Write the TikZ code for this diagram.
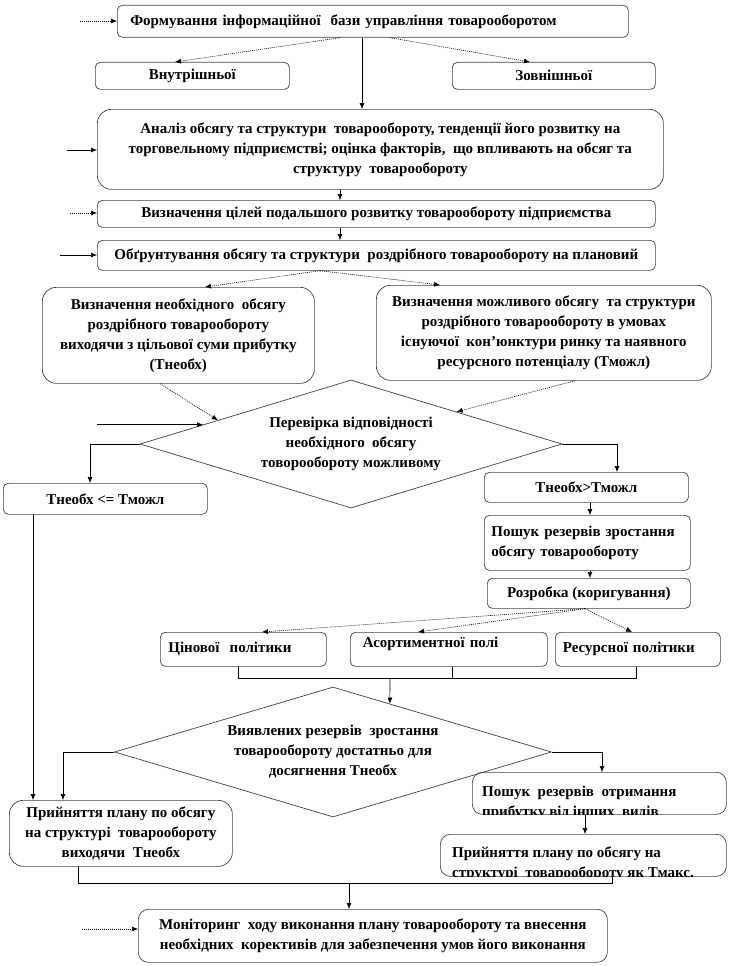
\documentclass[tikz,border=0pt]{standalone}
\usepackage{fontspec}
\setmainfont{Liberation Serif}
\usetikzlibrary{arrows.meta,shapes.geometric,calc}
\begin{document}
\begin{tikzpicture}[x=1pt,y=-1pt,
  font=\fontsize{15}{20}\selectfont\bfseries,
  box/.style={draw=black!75, line width=0.7pt, rounded corners=5pt, anchor=north west, inner sep=0pt, align=center},
  bigbox/.style={box, rounded corners=14pt},
  arr/.style={-{Latex[length=6pt,width=5pt]}, line width=0.6pt},
  dotarr/.style={arr, dash pattern=on 1pt off 1pt},
  ln/.style={line width=0.6pt},
  dia/.style={draw=black!75, line width=0.7pt, diamond, inner sep=0pt, align=center}
]
\useasboundingbox (0,0) rectangle (730,966);

% boxes
\node[box, minimum width=511pt, minimum height=32pt, text width=485pt, align=left] (top) at (117,5) {Формування інформаційної\ \ бази управління товарооборотом};
\node[box, minimum width=194pt, minimum height=27pt] (vn) at (95,62) {Внутрішньої};
\node[box, minimum width=203pt, minimum height=27pt] (zn) at (452,62) {Зовнішньої};
\node[bigbox, minimum width=566pt, minimum height=80pt] (an) at (97,109) {Аналіз обсягу та структури\ \ товарообороту, тенденції його розвитку на\\торговельному підприємстві; оцінка факторів,\ \ що впливають на обсяг та\\структуру\ \ товарообороту};
\node[box, minimum width=558pt, minimum height=27pt] (cil) at (97,200) {Визначення цілей подальшого розвитку товарообороту підприємства};
\node[box, minimum width=558pt, minimum height=30pt] (obg) at (97,240) {Обґрунтування обсягу та структури\ \ роздрібного товарообороту на плановий};
\node[bigbox, minimum width=272pt, minimum height=96pt] (lb) at (42,287) {Визначення необхідного\ \ обсягу\\роздрібного товарообороту\\виходячи з цільової суми прибутку\\(Тнеобх)};
\node[bigbox, minimum width=335pt, minimum height=95pt] (rb) at (376,285) {Визначення можливого обсягу\ \ та структури\\роздрібного товарообороту в умовах\\існуючої\ \ кон’юнктури ринку та наявного\\ресурсного потенціалу (Тможл)};
\node[dia, minimum width=422pt, minimum height=128pt, shape aspect=3.3] (d1) at (351,444) {Перевірка відповідності\\необхідного\ \ обсягу\\товорообороту можливому};
\node[box, minimum width=204pt, minimum height=31pt] (tle) at (3,483) {Тнеобх <= Тможл};
\node[box, minimum width=204pt, minimum height=30pt] (tgt) at (484,472) {Тнеобх>Тможл};
\node[box, minimum width=206pt, minimum height=55pt, text width=192pt, align=left] (psk) at (484,515) {Пошук резервів зростання\\обсягу товарообороту};
\node[box, minimum width=203pt, minimum height=30pt] (roz) at (487,578) {Розробка (коригування)};
\node[box, minimum width=166pt, minimum height=34pt, text width=150pt, align=left] (cin) at (160,632) {Цінової\ \ політики};
\node[box, minimum width=197pt, minimum height=34pt, text width=172pt, align=left] (aso) at (350,632) {Асортиментної полі\\[-6pt]\mbox{}};
\node[box, minimum width=165pt, minimum height=34pt, text width=150pt, align=left] (res) at (555,632) {Ресурсної політики};
\node[dia, minimum width=437pt, minimum height=130pt, shape aspect=3.3] (d2) at (333,752) {Виявлених резервів\ \ зростання\\товарообороту достатньо для\\досягнення Тнеобх};
\node[bigbox, minimum width=223pt, minimum height=66pt] (ppl) at (9,800) {Прийняття плану по обсягу\\на структурі\ \ товарообороту\\виходячи\ \ Тнеобх};
\node[box, rounded corners=10pt, minimum width=254pt, minimum height=42pt] (pro) at (472,772) {};
\begin{scope}
\clip[rounded corners=10pt] (pro.north west) rectangle (pro.south east);
\node[anchor=north west, align=left, inner sep=0pt] (protext) at ($(pro.north west)+(10,14)$) {Пошук\ \ резервів\ \ отримання\\прибутку від інших\ \ видів};
\end{scope}
\node[box, rounded corners=10pt, minimum width=286pt, minimum height=42pt] (ppr) at (440,834) {};
\begin{scope}
\clip[rounded corners=10pt] (ppr.north west) rectangle (ppr.south east);
\node[anchor=north west, align=left, inner sep=0pt] (pprtext) at ($(ppr.north west)+(12,13)$) {Прийняття плану по обсягу на\\структурі\ \ товарообороту як Тмакс.};
\end{scope}
\node[box, rounded corners=10pt, minimum width=469pt, minimum height=53pt] (mon) at (138,909) {Моніторинг\ \ ходу виконання плану товарообороту та внесення\\необхідних\ \ корективів для забезпечення умов його виконання};

% input arrows
\coordinate (i1) at (80,21);
\draw[dotarr] (i1) -- (top.west |- i1);
\coordinate (i2) at (67,150);
\draw[arr] (i2) -- (an.west |- i2);
\coordinate (i3) at (70,213);
\draw[dotarr] (i3) -- (cil.west |- i3);
\coordinate (i4) at (60,255);
\draw[arr] (i4) -- (obg.west |- i4);
\coordinate (e5) at ($(d1.west)!0.3!(d1.north)$);
\coordinate (i5) at (97,0 |- e5);
\draw[arr] (i5) -- (e5);
\coordinate (i6) at (82,929);
\draw[dotarr] (i6) -- (mon.west |- i6);

% connectors
\draw[dotarr] (340,0 |- top.south) -- (175,0 |- vn.north);
\draw[dotarr] (390,0 |- top.south) -- (530,0 |- zn.north);
\draw[arr] (362,0 |- top.south) -- (362,0 |- an.north);
\draw[arr] (340,0 |- an.south) -- (340,0 |- cil.north);
\draw[arr] (340,0 |- cil.south) -- (340,0 |- obg.north);
\draw[dotarr] (320,0 |- obg.south) -- (205,0 |- lb.north);
\draw[dotarr] (320,0 |- obg.south) -- (440,0 |- rb.north);
\draw[dotarr] (160,0 |- lb.south) -- ($(d1.west)!0.37!(d1.north)$);
\draw[dotarr] (575,0 |- rb.south) -- ($(d1.north)!0.5!(d1.east)$);
\draw[arr] (d1.west) -| (90,0 |- tle.north);
\draw[arr] (d1.east) -| (617,0 |- tgt.north);
\draw[arr] (590,0 |- tgt.south) -- (590,0 |- psk.north);
\draw[arr] (590,0 |- psk.south) -- (590,0 |- roz.north);
\draw[dotarr] (585,0 |- roz.south) -- (262,0 |- cin.north);
\draw[dotarr] (585,0 |- roz.south) -- (418,0 |- aso.north);
\draw[dotarr] (585,0 |- roz.south) -- (632,0 |- res.north);
\draw[ln] (238,0 |- cin.south) -- (238,678) -- (636,678) -- (636,0 |- res.south);
\draw[ln] (452,0 |- aso.south) -- (452,678);
\coordinate (br) at (390,678);
\draw[arr] (br) -- ($(d2.north)!0.26!(d2.east)$);
\draw[arr] (33,0 |- tle.south) -- (33,0 |- ppl.north);
\draw[arr] (d2.west) -| (63,0 |- ppl.north);
\draw[arr] (d2.east) -| (602,0 |- pro.north);
\draw[arr] (585,0 |- pro.south) -- (585,0 |- ppr.north);
\draw[ln] (78,0 |- ppl.south) -- (78,883) -- (612,883) -- (612,0 |- ppr.south);
\coordinate (bb) at (349,883);
\draw[arr] (bb) -- (349,0 |- mon.north);
\end{tikzpicture}
\end{document}
